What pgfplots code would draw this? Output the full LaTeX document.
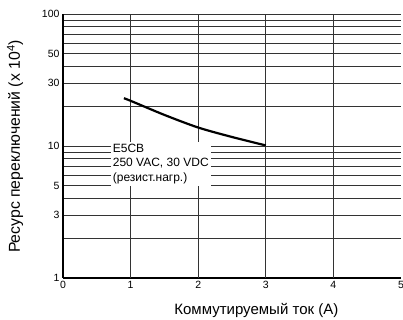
\documentclass[border=0pt]{standalone}
\usepackage{pgfplots}
\pgfplotsset{compat=1.18}
\usepackage{fontspec}
\setmainfont{Liberation Sans}
\begin{document}
\begin{tikzpicture}
\begin{axis}[
  at={(0,0)}, anchor=south west,
  scale only axis, width=338pt, height=264pt,
  ymode=log, xmin=0, xmax=5, ymin=1, ymax=100,
  axis x line*=bottom, axis y line*=left,
  axis line style={black, line width=1.2pt},
  xtick={0,1,2,3,4,5},
  extra x ticks={1,2,3,4},
  extra x tick labels={},
  extra x tick style={xmajorgrids=true},
  ytick={1,2,3,4,5,6,7,8,9,10,20,30,40,50,60,70,80,90,100},
  yticklabels={1,,3,,5,,,,,10,,30,,50,,,,,100},
  ymajorgrids=true,
  major tick length=0pt,
  minor tick num=0,
  major grid style={black!80, line width=0.9pt},
  tick label style={font=\fontsize{10.5}{12}\selectfont},
  /pgf/number format/assume math mode=true,
  xlabel={Коммутируемый ток (А)},
  ylabel={Ресурс переключений (x 10\textsuperscript{4})},
  xlabel style={font=\fontsize{15}{17}\selectfont, at={(axis description cs:0.572,0)}, anchor=center, yshift=-32pt},
  ylabel style={font=\fontsize{15.8}{18}\selectfont, at={(axis description cs:-0.142,0.498)}, anchor=center},
]
\addplot[black, line width=2.2pt, smooth] coordinates {(0.9,23) (1,22) (1.5,17.2) (2,13.8) (2.5,11.7) (3,10.1)};
\node[fill=white, inner sep=2pt, align=left, anchor=west, font=\fontsize{12}{14.5}\selectfont] at (axis cs:0.705,7.35) {E5CB\\250 VAC, 30 VDC\\(резист.нагр.)};
\end{axis}
\pgfresetboundingbox
\path (-63pt,-42pt) rectangle (340pt,278pt);
\end{tikzpicture}
\end{document}
